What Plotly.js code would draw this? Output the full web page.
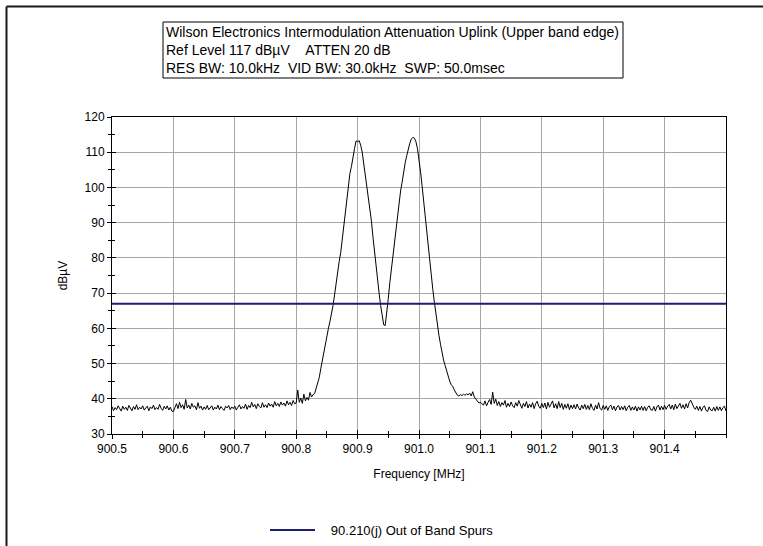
<!DOCTYPE html>
<html>
<head>
<meta charset="utf-8">
<script src="https://cdn.plot.ly/plotly-3.0.1.min.js"></script>
<style>
  html, body { margin: 0; padding: 0; background: #ffffff; }
  #chart { width: 763px; height: 546px; }
</style>
</head>
<body>
<div id="chart"></div>
<script>
// ---------------- DATA ----------------
const titleLines = [
  "Wilson Electronics Intermodulation Attenuation Uplink (Upper band edge)",
  "Ref Level 117 dB\u00b5V&nbsp;&nbsp;&nbsp;&nbsp;ATTEN 20 dB",
  "RES BW: 10.0kHz&nbsp;&nbsp;VID BW: 30.0kHz&nbsp;&nbsp;SWP: 50.0msec"
];
const xAxisTitle = "Frequency [MHz]";
const yAxisTitle = "dB\u00b5V";
const legendLabel = "90.210(j) Out of Band Spurs";

const freqStart = 900.5;   // MHz
const freqStep = 0.0025;   // MHz per sample

// trace level, 900.5000 .. 900.8275 MHz
const noiseLeft = [
  37.8,36.6,37.5,36.9,38.0,37.2,36.5,37.9,37.0,37.6,
  36.7,38.1,37.3,36.6,37.8,37.0,38.3,36.9,37.6,37.1,
  38.0,36.8,37.4,37.9,36.6,37.7,37.2,38.2,36.9,37.5,
  37.0,38.4,37.3,36.7,37.9,37.1,38.0,36.8,37.6,36.5,
  36.4,37.6,38.6,37.2,39.0,37.5,38.3,37.0,39.8,37.4,
  38.2,37.1,38.7,37.6,38.0,36.9,38.9,37.3,37.9,36.8,
  37.7,37.0,38.1,36.9,37.5,38.0,36.8,37.6,37.1,38.2,
  36.9,37.8,37.2,36.7,37.9,37.4,38.1,36.9,37.7,37.2,
  37.9,36.8,37.6,38.3,37.1,37.8,37.3,38.5,37.0,38.1,
  37.5,39.0,37.7,38.4,37.2,38.6,37.8,37.4,38.9,37.6,
  38.3,37.5,38.8,37.9,38.5,37.6,39.2,38.0,38.7,37.8,
  39.1,38.2,38.8,37.9,39.4,38.3,39.0,38.1,39.5,38.6,
  38.8,42.5,39.0,40.2,38.7,41.3,39.4,40.4,39.6,41.8,
  40.5,41.2
];
// trace level, 900.8300 .. 901.1025 MHz (two carriers)
const carriers = [
  41.5,43.0,44.0,46.0,48.5,51.0,53.5,56.0,58.0,60.0,
  62.0,64.0,66.5,69.5,73.0,76.5,79.0,81.5,85.5,89.5,
  93.0,97.0,101.5,104.0,106.0,108.0,111.0,113.2,113.0,113.3,
  112.0,110.0,107.0,104.0,100.5,97.0,93.5,90.5,86.0,81.5,
  78.0,74.0,70.0,66.5,63.5,61.0,60.8,64.0,68.5,73.0,
  77.0,80.5,84.0,87.0,91.0,95.0,99.0,101.5,104.5,107.0,
  109.0,111.0,112.5,113.8,114.2,114.0,113.0,111.0,108.0,104.5,
  100.5,96.0,92.0,87.5,83.0,79.0,75.0,71.0,67.5,64.0,
  61.0,58.0,55.5,53.0,51.0,49.5,48.0,46.0,45.0,44.0,
  43.5,42.5,41.5,41.0,40.8,41.2,40.9,41.3,41.0,41.4,
  41.1,41.6,40.8,42.0,40.5,39.8,39.5,38.8,39.0,38.6
];
// trace level, 901.1050 .. 901.5000 MHz
const noiseRight = [
  38.2,39.4,38.0,39.0,39.8,38.4,41.9,38.7,39.9,38.1,
  39.2,37.8,38.9,38.2,39.5,37.6,38.7,37.8,39.1,38.0,
  37.5,38.9,37.9,39.5,38.1,37.3,38.7,37.8,39.2,37.4,
  38.5,37.6,38.9,37.2,38.6,39.3,37.9,37.3,38.7,37.5,
  38.8,37.1,39.0,37.6,38.5,39.4,37.4,38.6,37.2,39.2,
  37.5,38.7,37.0,38.4,37.3,38.6,36.9,38.2,37.2,38.3,
  37.1,38.5,37.4,36.8,38.2,37.2,38.4,37.0,38.1,36.9,
  38.6,37.3,36.7,38.2,37.1,38.9,37.2,36.8,38.1,37.0,
  38.0,36.7,37.8,38.2,36.9,37.9,36.6,37.7,38.1,36.8,
  37.8,36.9,38.0,36.6,37.6,38.1,36.7,37.7,36.8,37.9,
  36.5,37.7,36.8,37.9,36.7,37.8,36.6,37.6,38.0,36.9,
  36.7,37.8,36.5,37.7,38.2,36.8,37.9,36.9,38.1,37.0,
  37.9,38.4,37.1,38.2,36.9,38.5,37.2,38.1,38.7,37.3,
  38.3,37.1,38.6,37.4,38.9,39.6,38.5,37.6,37.0,37.9,
  36.7,37.8,36.5,37.6,38.0,36.7,36.4,37.7,36.8,36.6,
  37.6,36.5,37.8,36.7,37.7,36.6,37.5,37.9,36.5
];
const spurLimitFreq = [900.5, 901.5];
const spurLimitLevel = [67, 67];

const xTickVals = [900.5, 900.6, 900.7, 900.8, 900.9, 901.0, 901.1, 901.2, 901.3, 901.4];
const xTickText = ["900.5","900.6","900.7","900.8","900.9","901.0","901.1","901.2","901.3","901.4"];
const xRange = [900.5, 901.5];
const yRange = [30, 120];

// ---------------- CHART ----------------
const level = noiseLeft.concat(carriers, noiseRight);
const FONT = "Liberation Sans, Arial, Helvetica, sans-serif";

const traces = [
  {
    type: "scatter", mode: "lines",
    x0: freqStart, dx: freqStep, y: level,
    line: {color: "#000000", width: 1},
    showlegend: false, hoverinfo: "x+y",
    xaxis: "x", yaxis: "y"
  },
  {
    type: "scatter", mode: "lines",
    x: spurLimitFreq, y: spurLimitLevel,
    name: "&nbsp;&nbsp;&nbsp;" + legendLabel,
    line: {color: "#1e1e6e", width: 2},
    showlegend: true,
    xaxis: "x2", yaxis: "y2"
  }
];

const baseAxis = {
  showline: true, linecolor: "#000000", linewidth: 1, mirror: true,
  zeroline: false, tickcolor: "#000000", tickwidth: 1,
  tickfont: {family: FONT, size: 12, color: "#000000"},
  gridcolor: "#a6a6a6", gridwidth: 1
};

const W = 763, H = 546;
const L = 112, R = 726, T = 117, B = 434;
const px = v => (v - L) / (R - L);
const py = v => (B - v) / (B - T);

const layout = {
  width: W, height: H,
  margin: {l: L, r: W - R, t: T, b: H - B, pad: 0, autoexpand: false},
  paper_bgcolor: "#ffffff", plot_bgcolor: "#ffffff",
  font: {family: FONT, size: 12, color: "#000000"},
  showlegend: true,
  legend: {
    xref: "container", yref: "container",
    x: 265 / W, y: 1 - 530 / H, xanchor: "left", yanchor: "middle",
    orientation: "h", itemwidth: 45,
    font: {family: FONT, size: 13, color: "#000000"},
    bgcolor: "rgba(0,0,0,0)"
  },
  xaxis: Object.assign({}, baseAxis, {
    range: xRange, tickmode: "array", tickvals: xTickVals, ticktext: xTickText,
    ticks: "outside", ticklen: 4, showgrid: true, ticklabelstandoff: 0,
    minor: {tick0: 900.5, dtick: 0.05, ticks: "outside", ticklen: 3, tickcolor: "#000000", showgrid: false},
    title: {text: xAxisTitle, font: {family: FONT, size: 12, color: "#000000"}, standoff: 14},
    automargin: false
  }),
  yaxis: Object.assign({}, baseAxis, {
    range: yRange, dtick: 10, tick0: 30,
    ticks: "outside", ticklen: 4, showgrid: true,
    minor: {tick0: 30, dtick: 5, ticks: "outside", ticklen: 3, tickcolor: "#000000", showgrid: false},
    title: {text: yAxisTitle, font: {family: FONT, size: 12, color: "#000000"}, standoff: 14},
    automargin: false
  }),
  xaxis2: {
    overlaying: "x", anchor: "y2", side: "bottom", range: xRange,
    showline: false, showgrid: false, zeroline: false, showticklabels: false,
    tickmode: "array", tickvals: xTickVals, ticks: "inside", ticklen: 4, tickcolor: "#000000",
    minor: {tick0: 900.5, dtick: 0.05, ticks: "inside", ticklen: 3, tickcolor: "#000000", showgrid: false}
  },
  yaxis2: {
    overlaying: "y", anchor: "x2", side: "left", range: yRange,
    showline: false, showgrid: false, zeroline: false, showticklabels: false,
    dtick: 10, tick0: 30, ticks: "inside", ticklen: 4, tickcolor: "#000000",
    minor: {tick0: 30, dtick: 5, ticks: "inside", ticklen: 3, tickcolor: "#000000", showgrid: false}
  },
  shapes: [
    {type: "rect", xref: "paper", yref: "paper",
     x0: px(163), x1: px(623), y0: py(78), y1: py(22),
     line: {color: "#000000", width: 1}, fillcolor: "rgba(0,0,0,0)"},
    {type: "line", xref: "paper", yref: "paper",
     x0: px(6.5), x1: px(6.5), y0: py(560), y1: py(6.5),
     line: {color: "#1a1a1a", width: 2}},
    {type: "line", xref: "paper", yref: "paper",
     x0: px(6.5), x1: px(790), y0: py(6.5), y1: py(6.5),
     line: {color: "#1a1a1a", width: 2}}
  ],
  annotations: [{
    text: titleLines.join("<br>"), xref: "paper", yref: "paper",
    x: px(164), y: py(50), xanchor: "left", yanchor: "middle",
    showarrow: false, align: "left",
    font: {family: FONT, size: 14, color: "#000000"}
  }]
};

Plotly.newPlot("chart", traces, layout, {displayModeBar: false, staticPlot: true});
</script>
</body>
</html>
